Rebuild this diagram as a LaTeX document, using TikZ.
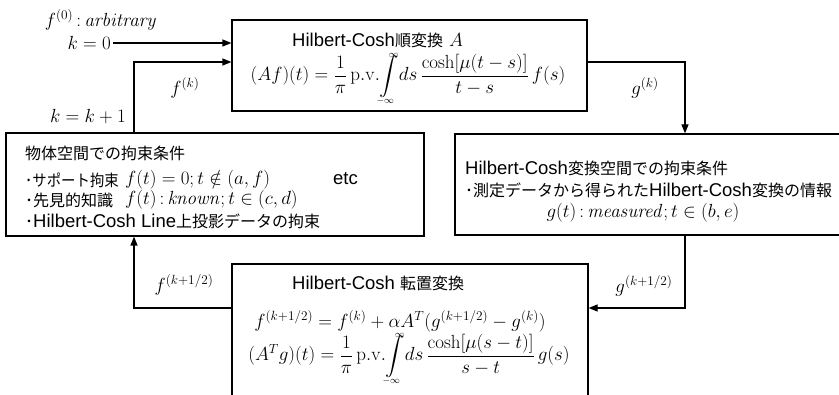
\RequirePackage{fix-cm}
\documentclass[tikz,border=0pt]{standalone}
\usepackage{amssymb}
\usepackage[no-math]{fontspec}
\setmainfont{Liberation Sans}
\newfontfamily\jp{Noto Sans CJK JP}[Scale=0.865]
\usetikzlibrary{arrows.meta}
\newcommand{\myint}{\int\limits^{\smash{\raisebox{-6pt}{$\scriptscriptstyle\infty$}}}_{\smash{\raisebox{5pt}{$\scriptscriptstyle-\infty$}}}}
\begin{document}
\begin{tikzpicture}[x=1pt,y=-1pt,
  box/.style={draw,line width=1.2pt,inner sep=0pt},
  arr/.style={line width=1.2pt,-{Triangle[length=9pt,width=7pt]}},
  txt/.style={inner sep=0pt,font=\fontsize{18.5}{22}\selectfont},
  mth/.style={inner sep=0pt,font=\fontsize{19}{22}\selectfont}]
\useasboundingbox (0,0) rectangle (839,395);
% boxes
\node[box,minimum width=355pt,minimum height=91pt] (top) at (409.5,65.5) {};
\node[box,minimum width=418pt,minimum height=103pt] (leftbox) at (215,184.5) {};
\node[box,minimum width=395pt,minimum height=101pt] (rightbox) at (652.5,184.5) {};
\node[box,minimum width=356pt,minimum height=136pt] (botbox) at (410,332) {};
% top box text
\node[txt,anchor=west] (toptitle) at (292,40) {Hilbert-Cosh{\jp 順変換}\,\,{\fontsize{19}{22}\selectfont$A$}};
\node[mth] (topform) at (408,80) {$\displaystyle (Af)(t)=\frac{1}{\pi}\,\mathrm{p.v.}\!\myint\!ds\,\frac{\cosh[\mu(t-s)]}{t-s}\,f(s)$};
% left box text
\node[txt,anchor=west] (l1) at (25,153) {\jp 物体空間での拘束条件};
\node[txt,anchor=west] (l2) at (25,180) {\scalebox{0.9}[1]{\jp ･サポート拘束}};
\node[mth,anchor=west] (l2m) at (125,180) {$f(t)=0;t\notin(a,f)$};
\node[txt,anchor=west] (l3) at (25,200) {\jp ･先見的知識};
\node[mth,anchor=west] (l3m) at (125,200) {$f(t)\,{:}\,\mathit{known};t\in(c,d)$};
\node[txt,anchor=west] (l4) at (25,221) {{\jp ･}Hilbert-Cosh Line{\jp 上投影データの拘束}};
\node[txt,anchor=west] (etc) at (333,179) {etc};
% right box text
\node[txt,anchor=west] (r1) at (465,168) {Hilbert-Cosh{\jp 変換空間での拘束条件}};
\node[txt,anchor=west] (r2) at (465,190) {{\jp ･測定データから得られた}Hilbert-Cosh{\jp 変換の情報}};
\node[mth] (r3) at (643,213) {$g(t)\,{:}\,\mathit{measured};t\in(b,e)$};
% bottom box text
\node[txt,anchor=west] (b1) at (292,283) {Hilbert-Cosh {\jp 転置変換}};
\node[mth] (b2) at (400,321) {$f^{(k+1/2)}=f^{(k)}+\alpha A^{T}(g^{(k+1/2)}-g^{(k)})$};
\node[mth] (b3) at (409,360) {$\displaystyle (A^{T}g)(t)=\frac{1}{\pi}\,\mathrm{p.v.}\!\myint\!ds\,\frac{\cosh[\mu(s-t)]}{s-t}\,g(s)$};
% labels
\node[mth] (f0) at (101,20) {$f^{(0)}\,{:}\,\mathit{arbitrary}$};
\node[mth,anchor=east] (k0) at (111,43) {$k=0$};
\node[mth] (fk) at (185,88) {$f^{(k)}$};
\node[mth] (kk) at (88,117) {$k=k+1$};
\node[mth] (gk) at (645,88) {$g^{(k)}$};
\node[mth] (fh) at (184,285) {$f^{(k+1/2)}$};
\node[mth] (gh) at (644,286) {$g^{(k+1/2)}$};
% connectors
\coordinate (kz) at (113,43);
\draw[arr] (kz) -- (kz -| top.west);
\coordinate (fb) at (134,62);
\draw[arr] (fb |- leftbox.north) -- (fb) -- (fb -| top.west);
\coordinate (gr) at (685,62);
\draw[arr] (gr -| top.east) -- (gr) -- (gr |- rightbox.north);
\coordinate (gb) at (685,308);
\draw[arr] (gb |- rightbox.south) -- (gb) -- (gb -| botbox.east);
\coordinate (fbb) at (134,308);
\draw[arr] (fbb -| botbox.west) -- (fbb) -- (fbb |- leftbox.south);
\end{tikzpicture}
\end{document}
